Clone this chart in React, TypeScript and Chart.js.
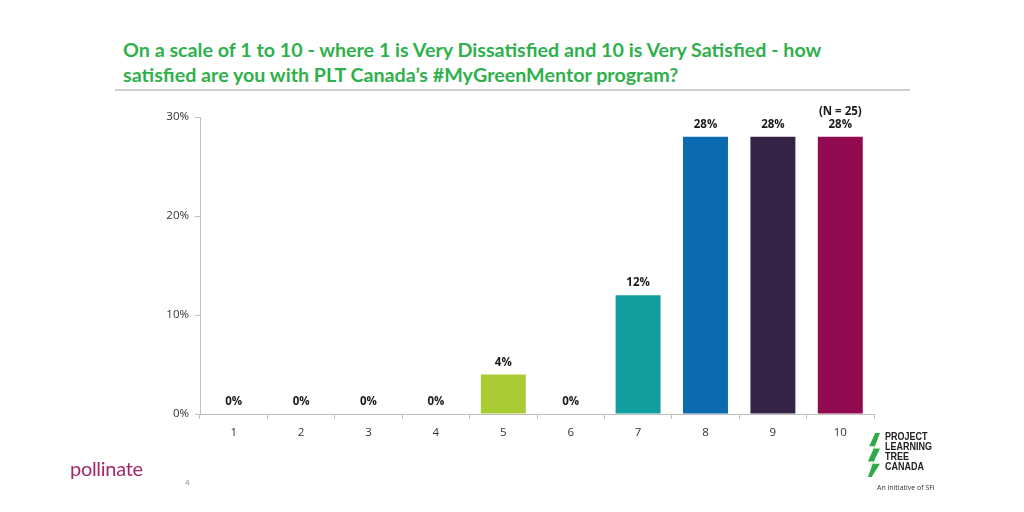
import React, { useEffect, useRef } from "react";
import { Chart, registerables } from "chart.js";

Chart.register(...registerables);

const categories = ["1", "2", "3", "4", "5", "6", "7", "8", "9", "10"];
const values = [0, 0, 0, 0, 4, 0, 12, 28, 28, 28];
const barColors = [
  "#a9cc34", "#a9cc34", "#a9cc34", "#a9cc34", "#a9cc34",
  "#a9cc34", "#129d9e", "#0b6bb0", "#352446", "#920a4f",
];
const yTicks = [0, 10, 20, 30];
const sampleNote = "(N = 25)";
const titleLines = [
  "On a scale of 1 to 10 - where 1 is Very Dissatisfied and 10 is Very Satisfied - how",
  "satisfied are you with PLT Canada\u2019s #MyGreenMentor program?",
];

const labelPlugin = {
  id: "barLabels",
  afterDatasetsDraw(chart: any) {
    const ctx = chart.ctx;
    const meta = chart.getDatasetMeta(0);
    ctx.save();
    ctx.font = "bold 11.5px 'Open Sans', sans-serif";
    ctx.fillStyle = "#1a1a1a";
    ctx.textAlign = "center";
    ctx.textBaseline = "middle";
    meta.data.forEach((el: any, i: number) => {
      const v = values[i];
      ctx.fillText(`${v}%`, el.x, el.y - 12);
      if (i === values.length - 1) {
        ctx.fillText(sampleNote, el.x, el.y - 25);
      }
    });
    ctx.restore();
  },
};

export default function App() {
  const ref = useRef<HTMLCanvasElement>(null);
  useEffect(() => {
    document.body.style.margin = "0";
    const chart = new Chart(ref.current!, {
      type: "bar",
      data: {
        labels: categories,
        datasets: [
          {
            data: values,
            backgroundColor: barColors,
            barPercentage: 0.667,
            categoryPercentage: 1,
          },
        ],
      },
      options: {
        animation: false,
        responsive: false,
        layout: { padding: { left: 150, right: 150, top: 117, bottom: 58 } },
        plugins: { legend: { display: false }, tooltip: { enabled: false } },
        scales: {
          x: {
            grid: {
              offset: true,
              drawOnChartArea: false,
              drawTicks: true,
              tickLength: 5,
              color: "#bfbfbf",
            },
            border: { color: "#bfbfbf", width: 1 },
            ticks: {
              color: "#333333",
              font: { size: 11.5, family: "'Open Sans', sans-serif" },
              padding: 7,
            },
            afterFit(scale: any) {
              scale.height = 40;
            },
          },
          y: {
            min: 0,
            max: 30,
            afterBuildTicks(scale: any) {
              scale.ticks = yTicks.map((v) => ({ value: v }));
            },
            grid: {
              drawOnChartArea: false,
              drawTicks: true,
              tickLength: 5,
              color: "#bfbfbf",
            },
            border: { color: "#bfbfbf", width: 1 },
            ticks: {
              color: "#333333",
              font: { size: 11.5, family: "'Open Sans', sans-serif" },
              padding: 6,
              callback: (v: any) => `${v}%`,
            },
            afterFit(scale: any) {
              scale.width = 50;
            },
          },
        },
      },
      plugins: [labelPlugin],
    });
    return () => chart.destroy();
  }, []);

  return (
    <div
      style={{
        position: "relative",
        width: 1024,
        height: 512,
        background: "#ffffff",
        overflow: "hidden",
        fontFamily: "'Open Sans', sans-serif",
      }}
    >
      <div
        style={{
          position: "absolute",
          left: 123,
          top: 37,
          color: "#2fb04c",
          fontFamily: "Lato, sans-serif",
          fontWeight: 700,
          fontSize: 19.7,
          lineHeight: "25px",
          whiteSpace: "nowrap",
        }}
      >
        {titleLines.map((t, i) => (
          <div key={i}>{t}</div>
        ))}
      </div>
      <div
        style={{
          position: "absolute",
          left: 115,
          top: 89,
          width: 795,
          height: 2,
          background: "#cfcfcf",
        }}
      />
      <canvas ref={ref} width={1024} height={512} style={{ position: "absolute", left: 0, top: 0 }} />
      <div
        style={{
          position: "absolute",
          left: 70,
          top: 456,
          color: "#a3266d",
          fontFamily: "Lato, sans-serif",
          fontSize: 20,
          letterSpacing: "-0.3px",
        }}
      >
        pollinate
      </div>
      <div
        style={{ position: "absolute", left: 185, top: 476, color: "#888", fontSize: 8 }}
      >
        4
      </div>
      <div
        style={{
          position: "absolute",
          left: 885,
          top: 432,
          color: "#222",
          fontFamily: "'Liberation Sans', sans-serif",
          fontWeight: 700,
          fontSize: 10,
          lineHeight: "10px",
          transform: "scaleX(0.9)",
          transformOrigin: "left top",
        }}
      >
        <div>PROJECT</div>
        <div>LEARNING</div>
        <div>TREE</div>
        <div>CANADA</div>
      </div>
      <div
        style={{
          position: "absolute",
          left: 868,
          top: 433,
          width: 12,
          height: 44,
          background: "#2faa48",
          clipPath: "polygon(60% 0, 100% 0, 50% 35%, 100% 35%, 40% 70%, 100% 70%, 30% 100%, 0 100%, 45% 65%, 0 65%, 55% 30%, 10% 30%)",
        }}
      />
      <div
        style={{
          position: "absolute",
          left: 877,
          top: 483,
          color: "#333",
          fontSize: 7,
          whiteSpace: "nowrap",
        }}
      >
        An initiative of SFI
      </div>
    </div>
  );
}
